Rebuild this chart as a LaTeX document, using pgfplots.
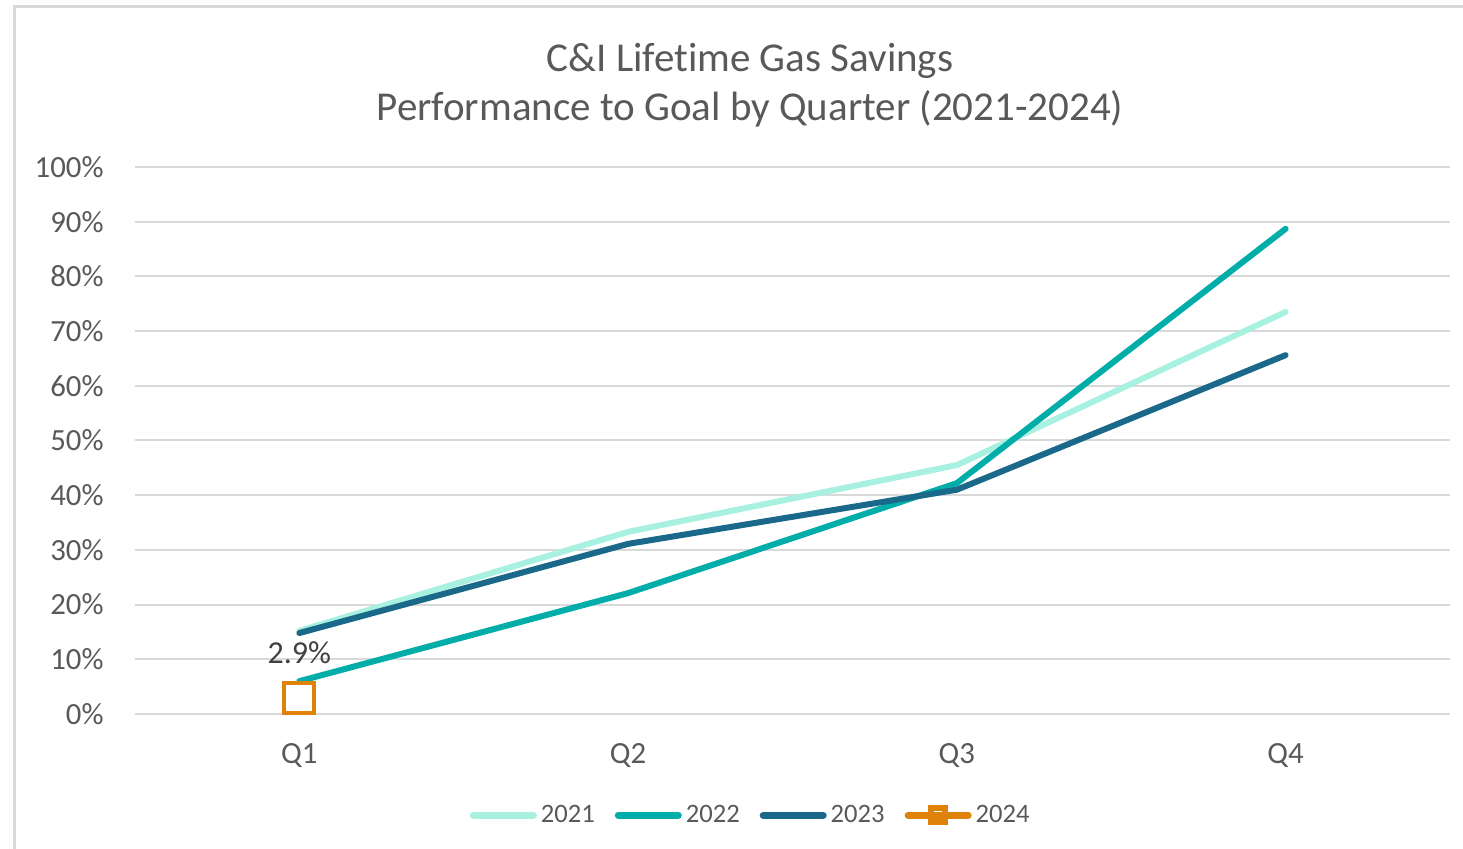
\documentclass[border=0pt]{standalone}
\usepackage{pgfplots}
\pgfplotsset{compat=1.18}
\usepackage{fontspec}
\setmainfont{Carlito}[Ligatures=NoCommon]
\definecolor{c2021}{RGB}{168,240,224}
\definecolor{c2022}{RGB}{0,173,169}
\definecolor{c2023}{RGB}{26,104,138}
\definecolor{c2024}{RGB}{222,130,10}
\definecolor{txt}{RGB}{89,89,89}
\definecolor{gridc}{RGB}{217,217,217}
\begin{document}
\begin{tikzpicture}
\path[use as bounding box] (0,0) rectangle (731.5pt,424.5pt);
\draw[gridc, line width=1.5pt] (7pt,0) -- (7pt,421pt) -- (731.5pt,421pt);
\node[txt, font=\fontsize{20.5}{24}\selectfont] at (375pt,394pt) {C\&I Lifetime Gas Savings};
\node[txt, font=\fontsize{20.5}{24}\selectfont] at (375pt,370pt) {Performance to Goal by Quarter (2021-2024)};
\begin{axis}[
  at={(67.5pt,67.5pt)}, anchor=south west,
  scale only axis, width=657.5pt, height=273.5pt,
  xmin=0.5, xmax=4.5, ymin=0, ymax=100,
  xtick={1,2,3,4}, xticklabels={Q1,Q2,Q3,Q4},
  ytick={0,10,...,100},
  yticklabel={\pgfmathprintnumber{\tick}\%},
  /pgf/number format/assume math mode=true,
  axis line style={draw=none},
  major tick length=0pt,
  ymajorgrids, grid style={gridc, line width=1pt},
  tick label style={txt, font=\fontsize{15.4}{18}\selectfont},
  yticklabel style={anchor=east, inner sep=0pt, xshift=-15.5pt},
  xticklabel style={anchor=center, inner sep=0pt, yshift=-21pt},
  legend columns=4,
  legend style={at={(0.469,-0.185)}, anchor=center, draw=none, fill=none,
    font=\fontsize{13.3}{15}\selectfont, text=txt,
    nodes={inner xsep=2pt},
    /tikz/every even column/.append style={column sep=8pt}},
  legend image code/.code={\draw[#1, line width=3.5pt] (0pt,0pt) -- (30pt,0pt);},
  clip=false,
]
\addplot[c2021, line width=3pt, line cap=round] coordinates {(1,15.2) (2,33.3) (3,45.5) (4,73.5)};
\addlegendentry{2021}
\addplot[c2022, line width=3pt, line cap=round] coordinates {(1,6.0) (2,22.1) (3,42.2) (4,88.7)};
\addlegendentry{2022}
\addplot[c2023, line width=3pt, line cap=round] coordinates {(1,14.8) (2,31.1) (3,41.0) (4,65.6)};
\addlegendentry{2023}
\addplot[c2024, line width=3pt, mark=square, mark size=7.5pt,
  mark options={line width=2pt, fill=white},
  legend image code/.code={\draw[c2024, line width=3.5pt, line cap=round] (0pt,0pt) -- (30pt,0pt);
     \fill[c2024] (11.5pt,-3.5pt) rectangle (18.5pt,3.5pt);
     \draw[white, line width=0.5pt] (13pt,2pt) -- (17pt,2pt);},
  nodes near coords={2.9\%},
  every node near coord/.style={anchor=center, yshift=22.5pt, text=black!75, font=\fontsize{16}{18}\selectfont}]
  coordinates {(1,2.9)};
\addlegendentry{2024}
\end{axis}
\end{tikzpicture}
\end{document}
